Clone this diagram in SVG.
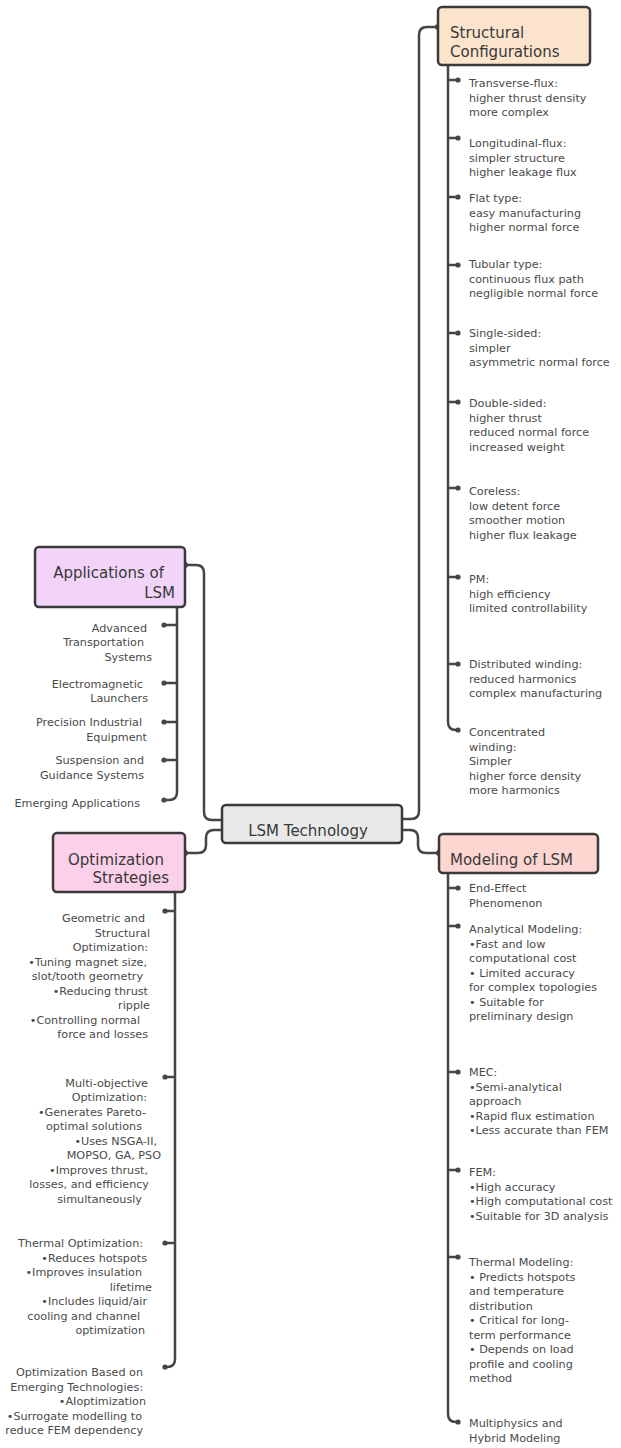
<svg xmlns="http://www.w3.org/2000/svg" width="621" height="1448" viewBox="0 0 621 1448">
<style>
.box{stroke:#3a3a3a;stroke-width:2.5}
.hdr{font-family:'DejaVu Sans',sans-serif;font-size:15px;fill:#383838}
.t{font-family:'DejaVu Sans',sans-serif;font-size:11.2px;fill:#4a4a4a}
.e{text-anchor:end}
.c{fill:none;stroke:#454545;stroke-width:2.5;stroke-linecap:round;stroke-linejoin:round}
.d{fill:#454545}
</style>
<rect width="621" height="1448" fill="#ffffff"/>

<g id="connectors">
  <path class="c" d="M402,819 H411 Q419,819 419,811 V35 Q419,27 427,27 H438"/>
  <path class="c" d="M402,830 H410 Q418,830 418,838 V845 Q418,853 426,853 H439"/>
  <path class="c" d="M222,820 H212 Q204,820 204,812 V573 Q204,565 196,565 H185"/>
  <path class="c" d="M222,830 H214 Q206,830 206,838 V845 Q206,853 198,853 H185"/>
  <circle class="d" cx="438" cy="27" r="3"/>
  <circle class="d" cx="439" cy="853" r="3"/>
  <circle class="d" cx="185" cy="565" r="3"/>
  <circle class="d" cx="185" cy="853" r="3"/>
  <!-- Structural children -->
  <path class="c" d="M448,65 V722 Q448,730 456,730 H458 M448,80 H458 M448,138 H458 M448,197 H458 M448,265 H458 M448,333 H458 M448,402 H458 M448,488 H458 M448,577 H458 M448,664 H458"/>
  <circle class="d" cx="458" cy="80" r="2.6"/><circle class="d" cx="458" cy="138" r="2.6"/><circle class="d" cx="458" cy="197" r="2.6"/><circle class="d" cx="458" cy="265" r="2.6"/><circle class="d" cx="458" cy="333" r="2.6"/><circle class="d" cx="458" cy="402" r="2.6"/><circle class="d" cx="458" cy="488" r="2.6"/><circle class="d" cx="458" cy="577" r="2.6"/><circle class="d" cx="458" cy="664" r="2.6"/><circle class="d" cx="458" cy="730" r="2.6"/>
  <!-- Modeling children -->
  <path class="c" d="M448,873 V1414 Q448,1422 456,1422 H458 M448,888 H458 M448,926 H458 M448,1072 H458 M448,1170 H458 M448,1257 H458"/>
  <circle class="d" cx="458" cy="888" r="2.6"/><circle class="d" cx="458" cy="926" r="2.6"/><circle class="d" cx="458" cy="1072" r="2.6"/><circle class="d" cx="458" cy="1170" r="2.6"/><circle class="d" cx="458" cy="1257" r="2.6"/><circle class="d" cx="458" cy="1422" r="2.6"/>
  <!-- Applications children -->
  <path class="c" d="M177,607 V792 Q177,800 169,800 H164 M177,625 H164 M177,683 H164 M177,722 H164 M177,760 H164"/>
  <circle class="d" cx="164" cy="625" r="2.6"/><circle class="d" cx="164" cy="683" r="2.6"/><circle class="d" cx="164" cy="722" r="2.6"/><circle class="d" cx="164" cy="760" r="2.6"/><circle class="d" cx="164" cy="800" r="2.6"/>
  <!-- Optimization children -->
  <path class="c" d="M175,892 V1359 Q175,1367 167,1367 H165 M175,911 H165 M175,1077 H165 M175,1243 H165"/>
  <circle class="d" cx="165" cy="911" r="2.6"/><circle class="d" cx="165" cy="1077" r="2.6"/><circle class="d" cx="165" cy="1243" r="2.6"/><circle class="d" cx="165" cy="1367" r="2.6"/>
</g>

<g id="root">
  <rect class="box" x="222" y="805" width="180" height="38" rx="4" fill="#e9e9e9"/>
  <text class="hdr" x="308" y="836" text-anchor="middle">LSM Technology</text>
</g>

<g id="structural">
  <rect class="box" x="438" y="7" width="152" height="58" rx="4" fill="#fde4cd"/>
  <text class="hdr" x="450" y="38">Structural</text>
  <text class="hdr" x="450" y="57">Configurations</text>
</g>
<g id="s1"><text class="t" x="469" y="87">Transverse-flux:<tspan x="469" y="101.5">higher thrust density</tspan><tspan x="469" y="116">more complex</tspan></text></g>
<g id="s2"><text class="t" x="469" y="147">Longitudinal-flux:<tspan x="469" y="161.5">simpler structure</tspan><tspan x="469" y="176">higher leakage flux</tspan></text></g>
<g id="s3"><text class="t" x="469" y="202">Flat type:<tspan x="469" y="216.5">easy manufacturing</tspan><tspan x="469" y="231">higher normal force</tspan></text></g>
<g id="s4"><text class="t" x="469" y="268">Tubular type:<tspan x="469" y="282.5">continuous flux path</tspan><tspan x="469" y="297">negligible normal force</tspan></text></g>
<g id="s5"><text class="t" x="469" y="337">Single-sided:<tspan x="469" y="351.5">simpler</tspan><tspan x="469" y="366">asymmetric normal force</tspan></text></g>
<g id="s6"><text class="t" x="469" y="407">Double-sided:<tspan x="469" y="421.5">higher thrust</tspan><tspan x="469" y="436">reduced normal force</tspan><tspan x="469" y="450.5">increased weight</tspan></text></g>
<g id="s7"><text class="t" x="469" y="495">Coreless:<tspan x="469" y="509.5">low detent force</tspan><tspan x="469" y="524">smoother motion</tspan><tspan x="469" y="538.5">higher flux leakage</tspan></text></g>
<g id="s8"><text class="t" x="469" y="583">PM:<tspan x="469" y="597.5">high efficiency</tspan><tspan x="469" y="612">limited controllability</tspan></text></g>
<g id="s9"><text class="t" x="469" y="668">Distributed winding:<tspan x="469" y="682.5">reduced harmonics</tspan><tspan x="469" y="697">complex manufacturing</tspan></text></g>
<g id="s10"><text class="t" x="469" y="736">Concentrated<tspan x="469" y="750.5">winding:</tspan><tspan x="469" y="765">Simpler</tspan><tspan x="469" y="779.5">higher force density</tspan><tspan x="469" y="794">more harmonics</tspan></text></g>

<g id="modeling">
  <rect class="box" x="439" y="834" width="159" height="39" rx="4" fill="#fdd6d2"/>
  <text class="hdr" x="450" y="865">Modeling of LSM</text>
</g>
<g id="m1"><text class="t" x="469" y="892">End-Effect<tspan x="469" y="906.5">Phenomenon</tspan></text></g>
<g id="m2"><text class="t" x="469" y="933">Analytical Modeling:<tspan x="469" y="947.5">•Fast and low</tspan><tspan x="469" y="962">computational cost</tspan><tspan x="469" y="976.5">• Limited accuracy</tspan><tspan x="469" y="991">for complex topologies</tspan><tspan x="469" y="1005.5">• Suitable for</tspan><tspan x="469" y="1020">preliminary design</tspan></text></g>
<g id="m3"><text class="t" x="469" y="1076">MEC:<tspan x="469" y="1090.5">•Semi-analytical</tspan><tspan x="469" y="1105">approach</tspan><tspan x="469" y="1119.5">•Rapid flux estimation</tspan><tspan x="469" y="1134">•Less accurate than FEM</tspan></text></g>
<g id="m4"><text class="t" x="469" y="1176">FEM:<tspan x="469" y="1190.5">•High accuracy</tspan><tspan x="469" y="1205">•High computational cost</tspan><tspan x="469" y="1219.5">•Suitable for 3D analysis</tspan></text></g>
<g id="m5"><text class="t" x="469" y="1266">Thermal Modeling:<tspan x="469" y="1280.5">• Predicts hotspots</tspan><tspan x="469" y="1295">and temperature</tspan><tspan x="469" y="1309.5">distribution</tspan><tspan x="469" y="1324">• Critical for long-</tspan><tspan x="469" y="1338.5">term performance</tspan><tspan x="469" y="1353">• Depends on load</tspan><tspan x="469" y="1367.5">profile and cooling</tspan><tspan x="469" y="1382">method</tspan></text></g>
<g id="m6"><text class="t" x="469" y="1427">Multiphysics and<tspan x="469" y="1441.5">Hybrid Modeling</tspan></text></g>

<g id="applications">
  <rect class="box" x="35" y="547" width="150" height="60" rx="4" fill="#f1d4f7"/>
  <text class="hdr e" x="164" y="578">Applications of</text>
  <text class="hdr e" x="175" y="598">LSM</text>
</g>
<g id="a1"><text class="t e" x="147" y="632">Advanced<tspan x="144" y="646">Transportation</tspan><tspan x="152" y="661">Systems</tspan></text></g>
<g id="a2"><text class="t e" x="143" y="688">Electromagnetic<tspan x="148" y="702">Launchers</tspan></text></g>
<g id="a3"><text class="t e" x="142" y="726">Precision Industrial<tspan x="147" y="741">Equipment</tspan></text></g>
<g id="a4"><text class="t e" x="144" y="764">Suspension and<tspan x="144" y="779">Guidance Systems</tspan></text></g>
<g id="a5"><text class="t e" x="140" y="807">Emerging Applications</text></g>

<g id="optimization">
  <rect class="box" x="53" y="833" width="132" height="59" rx="4" fill="#fcd0e9"/>
  <text class="hdr e" x="164" y="865">Optimization</text>
  <text class="hdr e" x="169" y="883">Strategies</text>
</g>
<g id="o1"><text class="t e" x="145" y="922">Geometric and<tspan x="150" y="936.5">Structural</tspan><tspan x="148" y="951">Optimization:</tspan><tspan x="147" y="965.5">•Tuning magnet size,</tspan><tspan x="143" y="980">slot/tooth geometry</tspan><tspan x="148" y="994.5">•Reducing thrust</tspan><tspan x="150" y="1009">ripple</tspan><tspan x="140" y="1023.5">•Controlling normal</tspan><tspan x="148" y="1038">force and losses</tspan></text></g>
<g id="o2"><text class="t e" x="148" y="1087">Multi-objective<tspan x="147" y="1101">Optimization:</tspan><tspan x="146" y="1115.5">•Generates Pareto-</tspan><tspan x="142" y="1130">optimal solutions</tspan><tspan x="157" y="1145">•Uses NSGA-II,</tspan><tspan x="161" y="1159">MOPSO, GA, PSO</tspan><tspan x="148" y="1173.5">•Improves thrust,</tspan><tspan x="149" y="1188">losses, and efficiency</tspan><tspan x="142" y="1202.5">simultaneously</tspan></text></g>
<g id="o3"><text class="t e" x="143" y="1247">Thermal Optimization:<tspan x="147" y="1261.5">•Reduces hotspots</tspan><tspan x="142" y="1276">•Improves insulation</tspan><tspan x="152" y="1290.5">lifetime</tspan><tspan x="147" y="1305">•Includes liquid/air</tspan><tspan x="140" y="1319.5">cooling and channel</tspan><tspan x="145" y="1334">optimization</tspan></text></g>
<g id="o4"><text class="t e" x="143" y="1376">Optimization Based on<tspan x="143" y="1390.5">Emerging Technologies:</tspan><tspan x="146" y="1405">•AIoptimization</tspan><tspan x="142" y="1419.5">•Surrogate modelling to</tspan><tspan x="143" y="1434">reduce FEM dependency</tspan></text></g>
</svg>
